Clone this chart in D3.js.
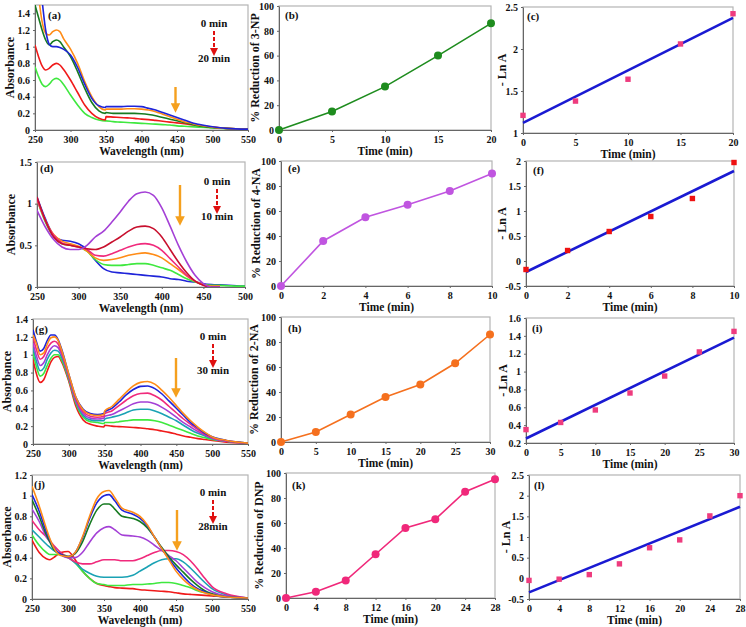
<!DOCTYPE html>
<html><head><meta charset="utf-8">
<script src="https://cdn.jsdelivr.net/npm/d3@7"></script>
<style>
body{margin:0;background:#fff}
svg text{font-family:"Liberation Serif","Times New Roman",serif;font-weight:bold;fill:#111}
</style>
</head><body>
<svg id="c" width="746" height="627"></svg>
<script>
// ---------- Panel (a): 3-NP spectra ----------
const wlA = [250,255,260,265,270,275,280,285,290,300,310,320,330,340,349,350,360,370,380,390,400,410,420,430,440,450,460,470,480,500,520,550];
const aOrange = [1.9,1.6,1.3,1.16,1.14,1.18,1.2,1.18,1.1,0.97,0.8,0.58,0.4,0.28,0.24,0.25,0.25,0.25,0.255,0.255,0.25,0.24,0.22,0.19,0.16,0.13,0.1,0.08,0.06,0.035,0.02,0.01];
const aBlue = [2.2,1.9,1.55,1.2,1.03,1.0,1.0,0.99,0.97,0.9,0.75,0.55,0.38,0.29,0.27,0.28,0.28,0.28,0.285,0.285,0.28,0.26,0.24,0.21,0.18,0.15,0.12,0.09,0.07,0.04,0.02,0.01];
const aDkGreen = [1.5,1.35,1.2,1.08,1.02,1.06,1.08,1.06,1.0,0.88,0.7,0.5,0.33,0.23,0.2,0.21,0.2,0.2,0.2,0.2,0.195,0.185,0.17,0.15,0.13,0.11,0.09,0.07,0.05,0.03,0.02,0.01];
const aRed = [1.02,0.88,0.77,0.72,0.74,0.78,0.8,0.78,0.73,0.6,0.45,0.3,0.2,0.14,0.12,0.16,0.155,0.15,0.145,0.14,0.13,0.125,0.115,0.105,0.095,0.085,0.075,0.065,0.055,0.035,0.02,0.01];
const aGreen = [0.76,0.64,0.55,0.52,0.55,0.6,0.62,0.6,0.55,0.42,0.3,0.2,0.15,0.12,0.11,0.11,0.1,0.095,0.09,0.085,0.08,0.075,0.07,0.065,0.06,0.05,0.045,0.04,0.035,0.025,0.015,0.01];

// ---------- Panel (d): 4-NA spectra ----------
const wlD = [250,260,270,280,290,300,310,320,330,340,350,360,370,380,390,400,410,420,430,440,450,460,470,480,490,500];
const dPurple = [0.92,0.72,0.57,0.48,0.45,0.45,0.5,0.6,0.67,0.78,0.9,1.03,1.12,1.14,1.1,0.95,0.73,0.5,0.3,0.14,0.04,0.0,0.0,null,null,null];
const dDkRed = [1.08,0.8,0.6,0.52,0.5,0.48,0.46,0.45,0.48,0.54,0.6,0.67,0.72,0.73,0.7,0.6,0.45,0.3,0.17,0.07,0.02,0.0,0.0,null,null,null];
const dPink = [1.05,0.8,0.62,0.53,0.5,0.48,0.45,0.38,0.37,0.4,0.44,0.48,0.51,0.52,0.5,0.44,0.34,0.24,0.14,0.07,0.02,0.0,0.0,null,null,null];
const dOrange = [1.05,0.8,0.63,0.55,0.52,0.49,0.43,0.35,0.32,0.33,0.35,0.38,0.4,0.41,0.39,0.35,0.28,0.21,0.13,0.07,0.03,0.01,0.01,null,null,null];
const dGreen = [1.05,0.78,0.6,0.52,0.5,0.48,0.43,0.33,0.27,0.26,0.26,0.27,0.28,0.28,0.26,0.23,0.2,0.15,0.1,0.06,0.03,0.02,0.02,0.015,0.01,0.01];
const dBlue = [1.08,0.82,0.62,0.56,0.55,0.52,0.45,0.32,0.22,0.18,0.17,0.16,0.15,0.14,0.13,0.12,0.1,0.09,0.07,0.06,0.04,0.03,0.025,0.02,0.015,0.01];

// ---------- Panel (g): 2-NA spectra ----------
const wlG = [250,255,260,265,270,275,280,285,290,300,310,320,330,340,349,350,360,370,380,390,400,410,420,430,440,450,460,470,480,490,500,520,550];
const gOrange = [1.22,1.12,1.0,1.02,1.12,1.19,1.2,1.16,1.05,0.78,0.52,0.38,0.33,0.32,0.33,0.37,0.42,0.5,0.58,0.65,0.69,0.7,0.67,0.6,0.52,0.43,0.34,0.26,0.19,0.13,0.08,0.04,0.01];
const gBlue = [1.28,1.14,1.04,1.07,1.16,1.22,1.22,1.17,1.06,0.78,0.52,0.39,0.34,0.33,0.34,0.36,0.4,0.47,0.55,0.61,0.645,0.65,0.62,0.56,0.48,0.4,0.32,0.24,0.18,0.12,0.08,0.04,0.01];
const gPink = [1.2,1.05,0.95,0.98,1.07,1.13,1.15,1.12,1.02,0.76,0.5,0.36,0.31,0.3,0.31,0.34,0.37,0.43,0.49,0.54,0.565,0.57,0.54,0.49,0.42,0.35,0.28,0.22,0.16,0.11,0.07,0.035,0.01];
const gPurple = [1.13,0.98,0.88,0.91,1.0,1.07,1.1,1.08,1.0,0.75,0.48,0.34,0.29,0.28,0.29,0.31,0.33,0.37,0.41,0.45,0.47,0.47,0.45,0.41,0.36,0.3,0.24,0.19,0.14,0.1,0.065,0.03,0.01];
const gTeal = [1.08,0.92,0.82,0.85,0.95,1.02,1.05,1.04,0.97,0.74,0.47,0.32,0.27,0.26,0.26,0.28,0.3,0.32,0.35,0.38,0.39,0.39,0.37,0.34,0.3,0.26,0.21,0.16,0.12,0.09,0.06,0.03,0.01];
const gGreen = [1.02,0.86,0.76,0.79,0.88,0.96,1.0,1.0,0.94,0.72,0.45,0.3,0.25,0.24,0.23,0.24,0.24,0.25,0.26,0.27,0.27,0.27,0.26,0.24,0.21,0.18,0.15,0.12,0.09,0.07,0.05,0.03,0.01];
const gRed = [0.95,0.78,0.69,0.72,0.82,0.92,0.97,0.98,0.92,0.7,0.42,0.27,0.22,0.2,0.19,0.21,0.2,0.195,0.19,0.185,0.18,0.17,0.16,0.145,0.13,0.11,0.09,0.075,0.06,0.05,0.04,0.02,0.01];

// ---------- Panel (j): DNP spectra ----------
const wlJ = [250,260,270,275,280,290,300,310,320,330,340,350,357,365,375,390,400,410,420,430,440,450,460,470,480,490,500,520,550];
const jOrange = [1.09,0.9,0.68,0.58,0.5,0.42,0.41,0.45,0.6,0.8,0.97,1.04,1.05,0.98,0.88,0.84,0.8,0.72,0.6,0.49,0.38,0.27,0.19,0.13,0.09,0.06,0.04,0.02,0.01];
const jBlue = [1.01,0.85,0.65,0.57,0.5,0.43,0.41,0.45,0.59,0.78,0.93,1.0,1.01,0.95,0.86,0.82,0.78,0.71,0.6,0.49,0.39,0.3,0.22,0.15,0.1,0.07,0.04,0.02,0.01];
const jDkGreen = [0.96,0.8,0.62,0.55,0.48,0.43,0.41,0.44,0.55,0.72,0.86,0.92,0.92,0.87,0.8,0.78,0.75,0.69,0.6,0.5,0.41,0.33,0.26,0.19,0.13,0.08,0.05,0.02,0.01];
const jPurple = [0.87,0.75,0.6,0.55,0.5,0.43,0.4,0.4,0.45,0.55,0.64,0.69,0.7,0.67,0.62,0.61,0.6,0.57,0.52,0.47,0.42,0.37,0.3,0.23,0.16,0.11,0.07,0.03,0.01];
const jPink = [0.76,0.67,0.6,0.56,0.52,0.45,0.4,0.36,0.34,0.34,0.36,0.38,0.38,0.38,0.37,0.37,0.39,0.42,0.45,0.47,0.47,0.46,0.43,0.37,0.29,0.2,0.12,0.05,0.01];
const jTeal = [0.67,0.6,0.53,0.5,0.47,0.43,0.4,0.35,0.29,0.25,0.22,0.21,0.21,0.21,0.21,0.23,0.27,0.31,0.35,0.38,0.39,0.39,0.36,0.3,0.23,0.16,0.1,0.04,0.01];
const jGreen = [0.62,0.52,0.45,0.43,0.43,0.43,0.41,0.35,0.27,0.2,0.15,0.14,0.13,0.13,0.13,0.14,0.14,0.145,0.15,0.16,0.16,0.15,0.13,0.11,0.08,0.06,0.04,0.02,0.01];
const jRed = [0.57,0.45,0.39,0.38,0.4,0.45,0.46,0.38,0.27,0.2,0.15,0.13,0.12,0.11,0.105,0.1,0.09,0.085,0.08,0.075,0.07,0.06,0.05,0.045,0.04,0.035,0.03,0.02,0.01];

// ---------- % reduction panels ----------
const timeB = [0,5,10,15,20];          const redB = [0,15,35,60,86];
const timeE = [0,2,4,6,8,10];          const redE = [0,36,55,65,76,90];
const timeH = [0,5,10,15,20,25,30];    const redH = [0,8,22,36,46,63,86];
const timeK = [0,4,8,12,16,20,24,28];  const redK = [0,5,14,35,56,63,85,95];

// ---------- -ln A panels (points + fitted line end values) ----------
const lnC = [1.21,1.38,1.64,2.06,2.42];              const fitC = [1.12,2.37];
const lnF = [-0.17,0.21,0.59,0.89,1.25,1.97];        const fitF = [-0.22,1.8];
const lnI = [0.35,0.43,0.57,0.76,0.95,1.22,1.45];    const fitI = [0.25,1.38];
const lnL = [-0.05,-0.02,0.09,0.35,0.74,0.93,1.51,2.0]; const fitL = [-0.34,1.73];

// ---------- tick labels ----------
const ticksWl = [250,300,350,400,450,500,550];
const ticksWlD = [250,300,350,400,450,500];
const ticksAbsA = [0,0.2,0.4,0.6,0.8,1,1.2,1.4];
const ticksAbsD = [0,0.5,1,1.5];
const ticksAbsJ = [0,0.2,0.4,0.6,0.8,1,1.2];
const ticksPct = [0,20,40,60,80,100];
const ticksT20 = [0,5,10,15,20];
const ticksT10 = [0,2,4,6,8,10];
const ticksT30 = [0,5,10,15,20,25,30];
const ticksT28 = [0,4,8,12,16,20,24,28];
const ticksLnC = [1,1.5,2,2.5];
const ticksLnF = [-0.5,0,0.5,1,1.5,2];
const ticksLnI = [0.2,0.4,0.6,0.8,1,1.2,1.4,1.6];
const ticksLnL = [-0.5,0,0.5,1,1.5,2,2.5];

// colours
const C = {orange:"#ff8c17", blue:"#1f24d9", dkgreen:"#167a20", red:"#f01a1a", green:"#3fe83f",
  purple:"#a440d6", dkred:"#c8102e", pink:"#f02a7c", teal:"#1aa2b4"};

const svg = d3.select("#c");
const defs = svg.append("defs");
function mk(id,color){
  defs.append("marker").attr("id",id).attr("viewBox","0 0 10 10").attr("refX",5).attr("refY",5)
   .attr("markerWidth",4).attr("markerHeight",4).attr("orient","auto")
   .append("path").attr("d","M0,0 L10,5 L0,10 z").attr("fill",color);
}
mk("arO","#f5a01e"); mk("arR","#e01010");

let clipN=0;
function panel(p){
  const x = d3.scaleLinear().domain(p.xd).range([p.x0,p.x1]);
  const y = d3.scaleLinear().domain(p.yd).range([p.yb,p.yt]);
  const g = svg.append("g");
  g.append("rect").attr("x",p.x0).attr("y",p.yt).attr("width",p.x1-p.x0).attr("height",p.yb-p.yt)
    .attr("fill","none").attr("stroke","#b4b4b4").attr("stroke-width",1.2);
  const fmt = d=>String(+d.toFixed(2));
  const ax = g.append("g").attr("transform",`translate(0,${p.yb})`)
    .call(d3.axisBottom(x).tickValues(p.xt).tickFormat(fmt).tickSizeInner(2).tickSizeOuter(0).tickPadding(4));
  const ay = g.append("g").attr("transform",`translate(${p.x0},0)`)
    .call(d3.axisLeft(y).tickValues(p.ytk).tickFormat(fmt).tickSizeInner(2).tickSizeOuter(0).tickPadding(3));
  [ax,ay].forEach(a=>{a.selectAll("path,line").attr("stroke","#666");
    a.selectAll("text").attr("font-size",10).attr("font-family",null).attr("fill","#111");});
  // titles
  g.append("text").attr("x",(p.x0+p.x1)/2).attr("y",p.yb+25).attr("text-anchor","middle")
    .attr("font-size",11.5).text(p.xlab);
  g.append("text").attr("transform",`translate(${p.ylx},${(p.yt+p.yb)/2}) rotate(-90)`)
    .attr("text-anchor","middle").attr("dominant-baseline","central").attr("font-size",12).text(p.ylab);
  g.append("text").attr("x",p.lx).attr("y",p.ly).attr("font-size",11).text(p.tag);
  const id="cl"+(clipN++);
  defs.append("clipPath").attr("id",id).append("rect").attr("x",p.x0).attr("y",p.yt)
    .attr("width",p.x1-p.x0).attr("height",p.yb-p.yt);
  const body = g.append("g").attr("clip-path",`url(#${id})`);
  return {x,y,g,body};
}

function spectra(p, wl, series){
  const {x,y,g,body} = panel(p);
  series.forEach(([vals,col])=>{
    const line = d3.line().defined(i=>vals[i]!=null).x(i=>x(wl[i])).y(i=>y(vals[i])).curve(d3.curveMonotoneX);
    body.append("path").attr("d",line(d3.range(wl.length))).attr("fill","none").attr("stroke",col).attr("stroke-width",1.6);
  });
  // time annotation
  g.append("text").attr("x",p.ax).attr("y",p.ay0).attr("text-anchor","middle").attr("font-size",11).text(p.t0);
  g.append("line").attr("x1",p.ax).attr("x2",p.ax).attr("y1",p.ay0+4).attr("y2",p.ay1-10)
    .attr("stroke","#e01010").attr("stroke-width",2).attr("stroke-dasharray","4,2").attr("marker-end","url(#arR)");
  g.append("text").attr("x",p.ax).attr("y",p.ay1).attr("text-anchor","middle").attr("font-size",11).text(p.t1);
  g.append("line").attr("x1",p.ox).attr("x2",p.ox).attr("y1",p.oy0).attr("y2",p.oy1-4)
    .attr("stroke","#f5a01e").attr("stroke-width",2.4).attr("marker-end","url(#arO)");
}

function reduction(p, t, v, col){
  const {x,y,g} = panel(p);
  g.append("path").attr("d",d3.line().x((d,i)=>x(t[i])).y(d=>y(d))(v))
    .attr("fill","none").attr("stroke",col).attr("stroke-width",1.6);
  g.selectAll(null).data(v).enter().append("circle").attr("cx",(d,i)=>x(t[i])).attr("cy",d=>y(d))
    .attr("r",4).attr("fill",col);
}

function kinetics(p, t, v, fit, col){
  const {x,y,g} = panel(p);
  g.append("line").attr("x1",x(t[0])).attr("y1",y(fit[0])).attr("x2",x(t[t.length-1])).attr("y2",y(fit[1]))
    .attr("stroke","#1a1ad2").attr("stroke-width",2.6);
  g.selectAll(null).data(v).enter().append("rect").attr("x",(d,i)=>x(t[i])-2.7).attr("y",d=>y(d)-2.7)
    .attr("width",5.4).attr("height",5.4).attr("fill",col);
}

// Row 1
spectra({x0:35,x1:248,yb:130,yt:5,xd:[250,550],yd:[0,1.5],xt:ticksWl,ytk:ticksAbsA,
  xlab:"Wavelength (nm)",ylab:"Absorbance",ylx:10,tag:"(a)",lx:48,ly:19,
  t0:"0 min",t1:"20 min",ax:214,ay0:27,ay1:62,ox:175.5,oy0:87,oy1:112}, wlA,
  [[aGreen,C.green],[aRed,C.red],[aDkGreen,C.dkgreen],[aOrange,C.orange],[aBlue,C.blue]]);
reduction({x0:279,x1:491,yb:130,yt:6,xd:[0,20],yd:[0,100],xt:ticksT20,ytk:ticksPct,
  xlab:"Time (min)",ylab:"% Reduction of 3-NP",ylx:255,tag:"(b)",lx:285,ly:19}, timeB, redB, "#1e8c1e");
kinetics({x0:523,x1:733,yb:133,yt:7,xd:[0,20],yd:[1,2.5],xt:ticksT20,ytk:ticksLnC,
  xlab:"Time (min)",ylab:"- Ln A",ylx:502,tag:"(c)",lx:527,ly:20}, timeB, lnC, fitC, "#ee3b7e");

// Row 2
spectra({x0:37,x1:245,yb:287,yt:162,xd:[250,500],yd:[0,1.5],xt:ticksWlD,ytk:ticksAbsD,
  xlab:"Wavelength (nm)",ylab:"Absorbance",ylx:11,tag:"(d)",lx:40,ly:172,
  t0:"0 min",t1:"10 min",ax:217,ay0:185,ay1:220,ox:180,oy0:185,oy1:225}, wlD,
  [[dBlue,C.blue],[dGreen,C.green],[dOrange,C.orange],[dPink,C.pink],[dDkRed,C.dkred],[dPurple,C.purple]]);
reduction({x0:281,x1:492,yb:286,yt:161,xd:[0,10],yd:[0,100],xt:ticksT10,ytk:ticksPct,
  xlab:"Time (min)",ylab:"% Reduction of 4-NA",ylx:256,tag:"(e)",lx:288,ly:172}, timeE, redE, "#c055e0");
kinetics({x0:526,x1:734,yb:286,yt:161,xd:[0,10],yd:[-0.5,2],xt:ticksT10,ytk:ticksLnF,
  xlab:"Time (min)",ylab:"- Ln A",ylx:502,tag:"(f)",lx:533,ly:174}, timeE, lnF, fitF, "#ee1111");

// Row 3
spectra({x0:33,x1:248,yb:444,yt:319,xd:[250,550],yd:[0,1.4],xt:ticksWl,ytk:ticksAbsA,
  xlab:"Wavelength (nm)",ylab:"Absorbance",ylx:7,tag:"(g)",lx:35,ly:333,
  t0:"0 min",t1:"30 min",ax:213,ay0:340,ay1:374,ox:176,oy0:358,oy1:397}, wlG,
  [[gRed,C.red],[gGreen,C.green],[gTeal,C.teal],[gPurple,C.purple],[gPink,C.pink],[gBlue,C.blue],[gOrange,C.orange]]);
reduction({x0:281,x1:490,yb:442,yt:317,xd:[0,30],yd:[0,100],xt:ticksT30,ytk:ticksPct,
  xlab:"Time (min)",ylab:"% Reduction of 2-NA",ylx:254,tag:"(h)",lx:288,ly:332}, timeH, redH, "#f5701e");
kinetics({x0:526,x1:734,yb:443,yt:318,xd:[0,30],yd:[0.2,1.6],xt:ticksT30,ytk:ticksLnI,
  xlab:"Time (min)",ylab:"- Ln A",ylx:503,tag:"(i)",lx:532,ly:332}, timeH, lnI, fitI, "#ee3b7e");

// Row 4
spectra({x0:32,x1:248,yb:599,yt:475,xd:[250,550],yd:[0,1.2],xt:ticksWl,ytk:ticksAbsJ,
  xlab:"Wavelength (nm)",ylab:"Absorbance",ylx:7,tag:"(j)",lx:34,ly:488,
  t0:"0 min",t1:"28min",ax:213,ay0:496,ay1:530,ox:177,oy0:510,oy1:550}, wlJ,
  [[jRed,C.red],[jGreen,C.green],[jTeal,C.teal],[jPink,C.pink],[jPurple,C.purple],[jDkGreen,C.dkgreen],[jBlue,C.blue],[jOrange,C.orange]]);
reduction({x0:286,x1:495,yb:598,yt:473,xd:[0,28],yd:[0,100],xt:ticksT28,ytk:ticksPct,
  xlab:"Time (min)",ylab:"% Reduction of DNP",ylx:259,tag:"(k)",lx:292,ly:489}, timeK, redK, "#f0287a");
kinetics({x0:529,x1:740,yb:599,yt:475,xd:[0,28],yd:[-0.5,2.5],xt:ticksT28,ytk:ticksLnL,
  xlab:"Time (min)",ylab:"- Ln A",ylx:506,tag:"(l)",lx:534,ly:489}, timeK, lnL, fitL, "#ee3b7e");
</script>
</body></html>
